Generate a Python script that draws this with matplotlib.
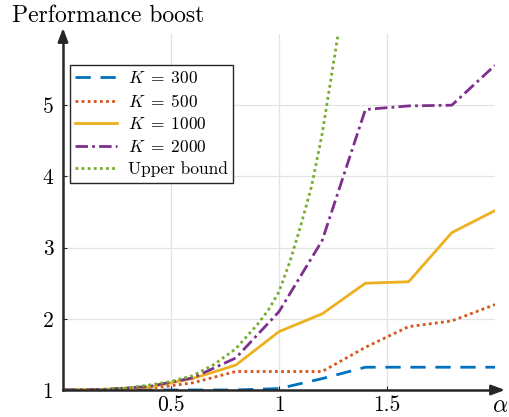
import numpy as np
import matplotlib.pyplot as plt

plt.rcParams['font.family'] = ['cmr10', 'DejaVu Serif']
plt.rcParams['mathtext.fontset'] = 'cm'
plt.rcParams['axes.formatter.use_mathtext'] = True

# data
alpha = [0, 0.2, 0.4, 0.6, 0.8, 1.0, 1.2, 1.4, 1.6, 1.8, 2.0]
k300 = [1.0, 1.0, 1.0, 1.0, 1.0, 1.02, 1.16, 1.32, 1.32, 1.32, 1.32]
k500 = [1.0, 1.0, 1.02, 1.1, 1.26, 1.26, 1.26, 1.6, 1.89, 1.97, 2.2]
k1000 = [1.0, 1.01, 1.04, 1.16, 1.35, 1.82, 2.07, 2.5, 2.52, 3.21, 3.52]
k2000 = [1.0, 1.01, 1.05, 1.17, 1.45, 2.1, 3.1, 4.94, 4.99, 5.0, 5.56]

ub_alpha = [0, 0.1, 0.2, 0.3, 0.4, 0.5, 0.6, 0.7, 0.8, 0.9, 0.95, 1.0,
            1.05, 1.1, 1.15, 1.2, 1.25, 1.3]
ub_vals = [1.0, 1.0, 1.01, 1.03, 1.07, 1.12, 1.2, 1.36, 1.58, 1.92, 2.12, 2.38,
           2.8, 3.3, 3.85, 4.6, 5.55, 6.5]

fig = plt.figure(figsize=(5.09, 4.17), dpi=100)
ax = fig.add_axes([63 / 509, 1 - 390 / 417, 432 / 509, 356 / 417])

lw = 2.0
ax.plot(alpha, k300, color='#0072BD', lw=lw, dashes=(5.5, 3.5), label=r'$K \;=\; 300$')
ax.plot(alpha, k500, color='#D95319', lw=lw, dashes=(1, 1.2), label=r'$K \;=\; 500$')
ax.plot(alpha, k1000, color='#EDB120', lw=lw, label=r'$K \;=\; 1000$')
ax.plot(alpha, k2000, color='#7E2F8E', lw=lw, dashes=(4.5, 1.5, 1, 1.5), label=r'$K \;=\; 2000$')
ax.plot(ub_alpha, ub_vals, color='#77AC30', lw=lw, dashes=(1, 1.2), label='Upper bound')

ax.set_xlim(0, 2)
ax.set_ylim(1, 6)
ax.set_xticks([0.5, 1, 1.5])
ax.set_xticklabels(['0.5', '1', '1.5'])
ax.set_yticks([1, 2, 3, 4, 5])
ax.set_yticklabels(['1', '2', '3', '4', '5'])
ax.tick_params(direction='in', length=3, width=0.8, color='#262626',
               labelsize=15.5)
ax.tick_params(axis='x', pad=4)
ax.tick_params(axis='y', pad=7)
ax.grid(True, color='#e3e3e3', lw=0.9)
ax.set_axisbelow(True)

for s in ['top', 'right']:
    ax.spines[s].set_visible(False)
for s in ['left', 'bottom']:
    ax.spines[s].set_color('#262626')
    ax.spines[s].set_linewidth(1.8)

# axis arrows
arrow = dict(arrowstyle='-|>,head_length=0.8,head_width=0.3',
             color='#262626', lw=1.8, shrinkA=0, shrinkB=0)
ax.annotate('', xy=((505 - 63) / 432, 0), xycoords='axes fraction',
            xytext=(0.99, 0), arrowprops=arrow, annotation_clip=False)
ax.annotate('', xy=(0, (390 - 28) / 356), xycoords='axes fraction',
            xytext=(0, 0.99), arrowprops=arrow, annotation_clip=False)

fig.text(500 / 509, 1 - 406 / 417, r'$\alpha$', fontsize=17, ha='center', va='center')
fig.text(12 / 509, 1 - 16 / 417, 'Performance boost', fontsize=17, ha='left', va='center')

leg = ax.legend(loc='upper left', bbox_to_anchor=(70 / 509, 1 - 65 / 417),
                bbox_transform=fig.transFigure, fontsize=12.5, frameon=True,
                fancybox=False, handlelength=2.4, handletextpad=0.65,
                borderaxespad=0, borderpad=0.3, labelspacing=0.38)
leg.get_frame().set_edgecolor('#262626')
leg.get_frame().set_linewidth(1.0)
leg.get_frame().set_alpha(1)

fig.savefig('out.png', dpi=100)
